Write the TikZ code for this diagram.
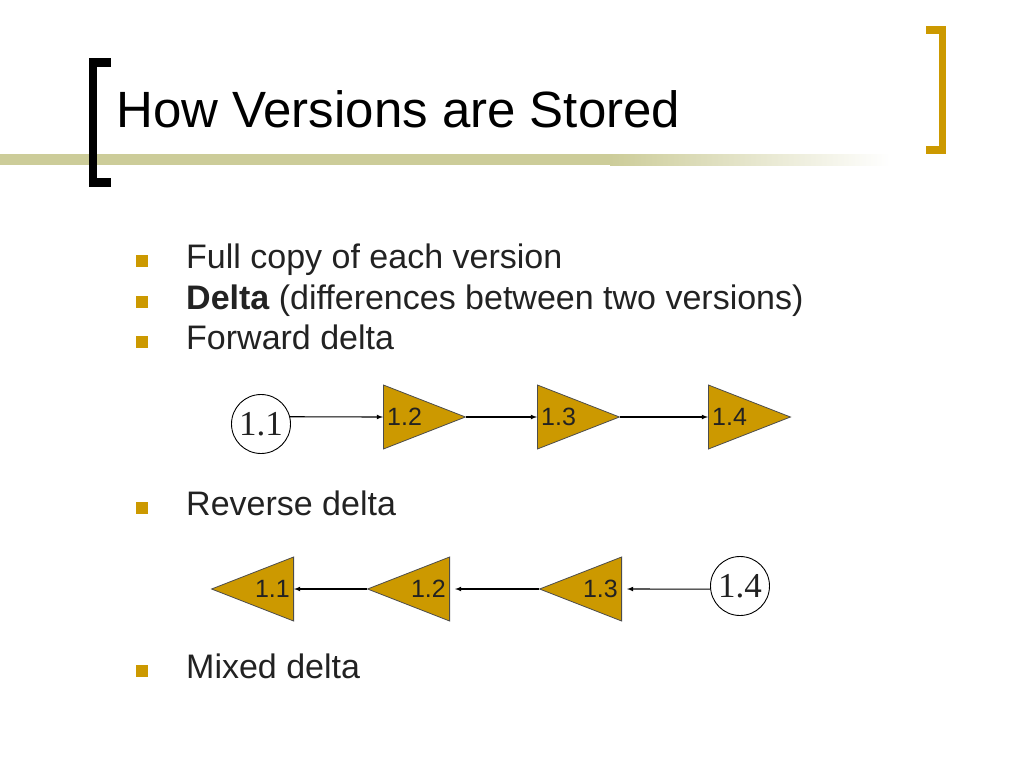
\documentclass[tikz,border=0pt]{standalone}
\usepackage{fontspec}
\setmainfont{Liberation Sans}
\newfontfamily\numfont{Liberation Serif}
\usetikzlibrary{arrows}
\usetikzlibrary{shapes}
\definecolor{gold}{RGB}{204,153,0}
\definecolor{olive}{RGB}{204,204,153}
\definecolor{ink}{RGB}{34,34,34}

\begin{document}
\begin{tikzpicture}
      [x=1pt,y=-1pt,
        every node/.style={inner sep=0pt,text=ink},
        body/.style={anchor=base west,font=\fontsize{34}{34}\selectfont},
        vers/.style={circle,draw,line width=0.9pt,minimum size=59pt,
          font=\numfont\fontsize{35}{35}\selectfont},
        fwd/.style={isosceles triangle,isosceles triangle stretches,
          draw=black!70,line width=0.8pt,fill=gold,minimum height=82pt,minimum width=64pt,anchor=west},
        rev/.style={fwd,shape border rotate=180,anchor=east},
        lbl/.style={font=\fontsize{25}{25}\selectfont},
        link/.style={-latex,line width=1.1pt}]
  \useasboundingbox (0,0) rectangle (1024,768);
  % title bar
  \fill[olive] (0,154) rectangle (610,165);
  \shade[left color=olive,right color=white] (610,154) rectangle (890,165);
  \fill (89,58) rectangle (97,187);
  \fill (89,58) rectangle (111,67);
  \fill (89,178) rectangle (111,187);
  \fill[gold] (939,26) rectangle (946,154);
  \fill[gold] (926,26) rectangle (946,34);
  \fill[gold] (926,146) rectangle (946,154);
  \node[anchor=base west,font=\fontsize{51}{51}\selectfont,text=black] (title) at (116,127)
    {How Versions are Stored};
  % bullets
  \foreach \y in {268,309,349,515,678}
    \fill[gold] (136,\y-13) rectangle (148,\y-1);
  \node[body] (full) at (186,268) {Full copy of each version};
  \node[body] (delta) at (186,309) {{\bfseries Delta} (differences between two versions)};
  \node[body] (fwdtxt) at (186,349) {Forward delta};
  \node[body] (revtxt) at (186,515) {Reverse delta};
  \node[body] (mixtxt) at (186,678) {Mixed delta};
  % forward delta
  \node[vers] (v11) at (261,424) {1.1};
  \node[fwd,label={[lbl,anchor=west,xshift=4pt]west:1.2}] (f12) at (383,417) {};
  \node[fwd,label={[lbl,anchor=west,xshift=4pt]west:1.3}] (f13) at (537,417) {};
  \node[fwd,label={[lbl,anchor=west,xshift=4pt]west:1.4}] (f14) at (708,417) {};
  \draw[link] (v11.14) -- (f12.west);
  \draw[link] (f12.apex) -- (f13.west);
  \draw[link] (f13.apex) -- (f14.west);
  % reverse delta
  \node[rev,label={[lbl,anchor=east,xshift=-4pt]east:1.1}] (r11) at (294,589) {};
  \node[rev,label={[lbl,anchor=east,xshift=-4pt]east:1.2}] (r12) at (450,589) {};
  \node[rev,label={[lbl,anchor=east,xshift=-4pt]east:1.3}] (r13) at (622,589) {};
  \node[vers] (r14) at (740,586) {1.4};
  \draw[link,shorten >=5pt] (r14.186) -- (r13.east);
  \draw[link,shorten >=5pt] (r13.apex) -- (r12.east);
  \draw[link] (r12.apex) -- (r11.east);
\end{tikzpicture}
\end{document}
